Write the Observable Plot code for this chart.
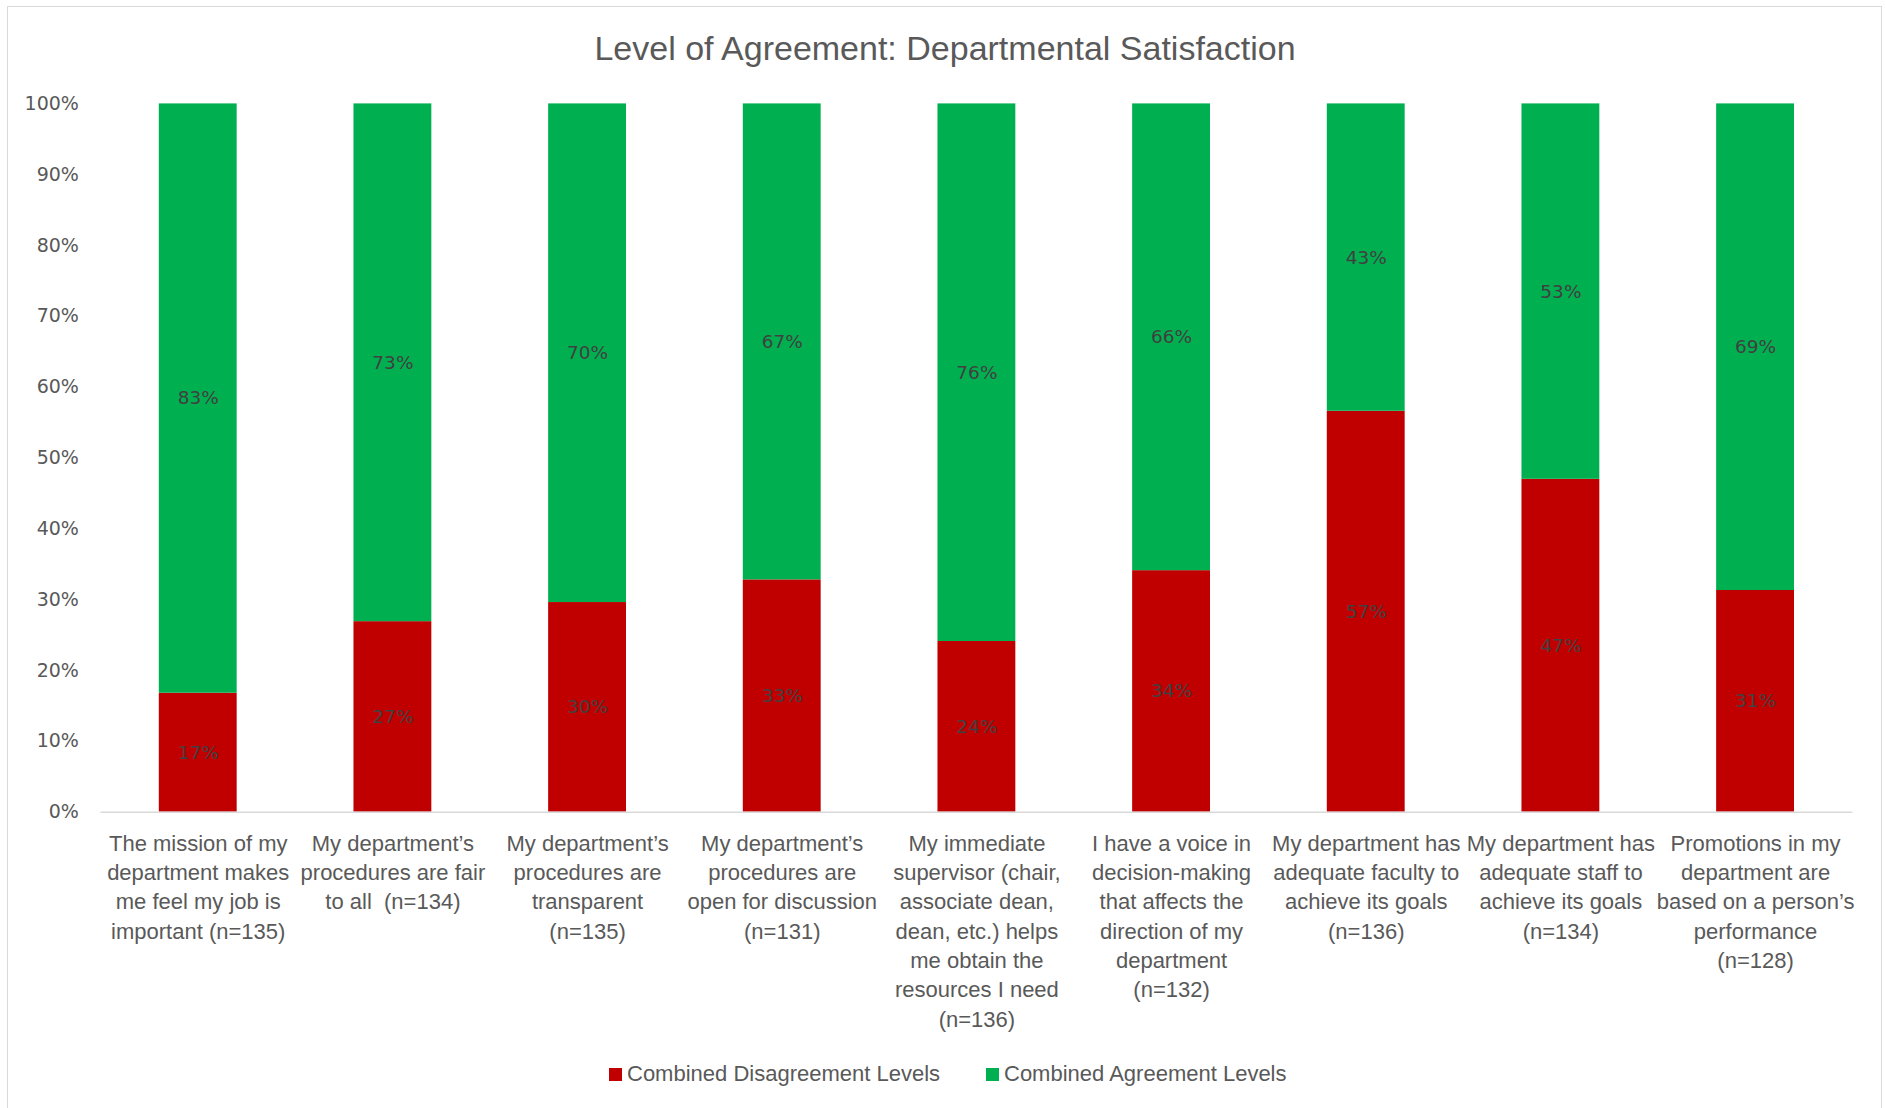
<!DOCTYPE html>
<html>
<head>
<meta charset="utf-8">
<script src="https://cdn.jsdelivr.net/npm/d3@7"></script>
<script src="https://cdn.jsdelivr.net/npm/@observablehq/plot@0.6"></script>
<style>
  html, body { margin: 0; padding: 0; background: #fff; }
  #wrap { position: relative; width: 1885px; height: 1108px; overflow: hidden; font-family: "Liberation Sans", Arial, sans-serif; }
  #frame { position: absolute; left: 7px; top: 6px; width: 1875px; height: 1200px; border: 1.5px solid #d9d9d9; box-sizing: border-box; }
  #title { position: absolute; left: 7px; width: 1876px; top: 31px; text-align: center; font-size: 34px; line-height: 34px; color: #595959; }
  #chart { position: absolute; left: 0; top: 0; }
  .leg { position: absolute; top: 1063px; font-size: 22px; line-height: 22px; color: #595959; white-space: nowrap; }
  .sw { position: absolute; width: 13px; height: 13px; top: 1068px; }
</style>
</head>
<body>
<div id="wrap">
  <div id="frame"></div>
  <div id="title">Level of Agreement: Departmental Satisfaction</div>
  <div id="chart"></div>
  <div id="legend"></div>
</div>
<script>
const questions = [
  "The mission of my\ndepartment makes\nme feel my job is\nimportant (n=135)",
  "My department’s\nprocedures are fair\nto all  (n=134)",
  "My department’s\nprocedures are\ntransparent\n(n=135)",
  "My department’s\nprocedures are\nopen for discussion\n(n=131)",
  "My immediate\nsupervisor (chair,\nassociate dean,\ndean, etc.) helps\nme obtain the\nresources I need\n(n=136)",
  "I have a voice in\ndecision-making\nthat affects the\ndirection of my\ndepartment\n(n=132)",
  "My department has\nadequate faculty to\nachieve its goals\n(n=136)",
  "My department has\nadequate staff to\nachieve its goals\n(n=134)",
  "Promotions in my\ndepartment are\nbased on a person’s\nperformance\n(n=128)"
];
const seriesNames = ["Combined Disagreement Levels", "Combined Agreement Levels"];
const seriesColors = ["#C00000", "#00B050"];
const disagree = [16.8, 26.9, 29.6, 32.8, 24.1, 34.1, 56.6, 47.0, 31.3];
const agree = [83.2, 73.1, 70.4, 67.2, 75.9, 65.9, 43.4, 53.0, 68.7];
const yTicks = [0, 10, 20, 30, 40, 50, 60, 70, 80, 90, 100];

const data = [];
questions.forEach((q, i) => {
  data.push({question: q, series: seriesNames[0], value: disagree[i]});
  data.push({question: q, series: seriesNames[1], value: agree[i]});
});

const W = 1885, H = 1040;
const plot = Plot.plot({
  width: W,
  height: H,
  marginLeft: 100.4,
  marginRight: 32.6,
  marginTop: 103.4,
  marginBottom: H - 811.7,
  style: {background: "transparent", overflow: "visible"},
  x: {domain: questions, paddingInner: 0.6, paddingOuter: 0.3, round: false, axis: null},
  y: {domain: [0, 100], axis: null},
  color: {domain: seriesNames, range: seriesColors},
  marks: [
    Plot.barY(data, Plot.stackY({x: "question", y: "value", z: "series", fill: "series", order: seriesNames})),
    Plot.ruleY([0], {stroke: "#d9d9d9", strokeWidth: 1.5}),
    Plot.text(data, Plot.stackY({
      x: "question", y: "value", z: "series", order: seriesNames,
      text: d => Math.round(d.value) + "%",
      fill: "#404040", fontSize: 18.5, fontFamily: "DejaVu Sans"
    })),
    Plot.axisY({
      ticks: yTicks, tickSize: 0, tickPadding: 22,
      tickFormat: d => d + "%",
      fontSize: 19, fontFamily: "DejaVu Sans", color: "#595959", label: null
    }),
    Plot.axisX({
      tickSize: 0, tickPadding: 18,
      fontSize: 22, lineHeight: 1.33, fontFamily: "Liberation Sans",
      color: "#595959", label: null, textOverflow: null, lineWidth: Infinity
    })
  ]
});
document.getElementById("chart").appendChild(plot);

const legend = document.getElementById("legend");
const legX = [609, 986];
seriesNames.forEach((name, i) => {
  const sw = document.createElement("div");
  sw.className = "sw";
  sw.style.left = legX[i] + "px";
  sw.style.background = seriesColors[i];
  legend.appendChild(sw);
  const t = document.createElement("div");
  t.className = "leg";
  t.style.left = (legX[i] + 18) + "px";
  t.textContent = name;
  legend.appendChild(t);
});
</script>
</body>
</html>
